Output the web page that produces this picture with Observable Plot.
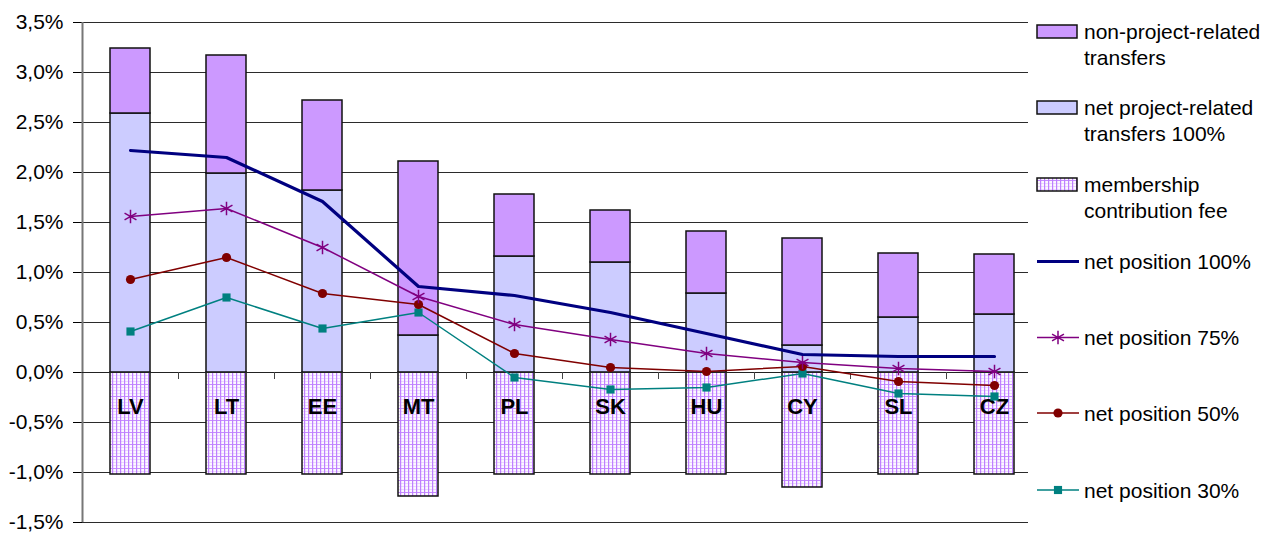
<!DOCTYPE html>
<html><head><meta charset="utf-8">
<script src="https://cdn.jsdelivr.net/npm/d3@7"></script>
<script src="https://cdn.jsdelivr.net/npm/@observablehq/plot@0.6"></script>
<style>
body{margin:0;background:#fff;font-family:"Liberation Sans",Arial,sans-serif;}
#wrap{position:relative;width:1278px;height:533px;overflow:hidden;}
#legend{position:absolute;left:1028px;top:0;}
</style></head><body><div id="wrap"></div>
<script>
const categories = ["LV","LT","EE","MT","PL","SK","HU","CY","SL","CZ"];
const membershipFee = [-1.02,-1.02,-1.02,-1.24,-1.02,-1.02,-1.02,-1.15,-1.02,-1.02];
const netProjectTransfers = [2.59,1.99,1.82,0.37,1.16,1.10,0.79,0.27,0.55,0.58];
const nonProjectTransfers = [0.65,1.18,0.90,1.74,0.62,0.52,0.62,1.07,0.64,0.60];
const netPosition100 = [2.22,2.15,1.71,0.86,0.77,0.60,0.39,0.18,0.16,0.16];
const netPosition75 = [1.56,1.64,1.25,0.76,0.48,0.33,0.19,0.10,0.04,0.01];
const netPosition50 = [0.93,1.15,0.79,0.68,0.19,0.05,0.01,0.06,-0.09,-0.13];
const netPosition30 = [0.41,0.75,0.44,0.60,-0.05,-0.17,-0.15,-0.01,-0.21,-0.24];
const yTicks = [-1.5,-1.0,-0.5,0,0.5,1.0,1.5,2.0,2.5,3.0,3.5];
const legendLabels = [
  ["non-project-related","transfers"],
  ["net project-related","transfers 100%"],
  ["membership","contribution fee"],
  ["net position 100%"],
  ["net position 75%"],
  ["net position 50%"],
  ["net position 30%"]
];

const C = {non:"#CC99FF", net:"#CCCCFF", p100:"#000080", p75:"#800080", p50:"#800000", p30:"#008080"};

const rows = categories.map((cat, i) => ({
  cat,
  fee: membershipFee[i],
  net: netProjectTransfers[i],
  top: netProjectTransfers[i] + nonProjectTransfers[i],
  p100: netPosition100[i], p75: netPosition75[i], p50: netPosition50[i], p30: netPosition30[i]
}));

const W = 1278, H = 533, ML = 82, MR = 236;
const step = (W - ML - MR) / categories.length;
const fmt = d => d.toFixed(1).replace(".", ",") + "%";

const chart = Plot.plot({
  width: W, height: H,
  marginLeft: ML, marginRight: MR, marginTop: 22, marginBottom: 11,
  style: {fontFamily: "'Liberation Sans', Arial, sans-serif", fontSize: "21px", color: "#000", background: "#fff"},
  x: {type: "band", domain: categories, paddingInner: 0.58, paddingOuter: 0.29, axis: null},
  y: {domain: [-1.5, 3.5], ticks: yTicks, tickFormat: fmt, tickSize: 9, tickPadding: 10, label: null},
  marks: [
    Plot.ruleY(yTicks, {stroke: "#2b2b2b", strokeWidth: 1}),
    Plot.ruleX([categories[0]], {y1: -1.5, y2: 3.5, dx: -step / 2, stroke: "#777", strokeWidth: 2}),
    Plot.barY(rows, {x: "cat", y1: 0, y2: "fee", fill: "url(#memberPattern)", stroke: "#111", strokeWidth: 1.5}),
    Plot.barY(rows, {x: "cat", y1: 0, y2: "net", fill: C.net, stroke: "#111", strokeWidth: 1.5}),
    Plot.barY(rows, {x: "cat", y1: "net", y2: "top", fill: C.non, stroke: "#111", strokeWidth: 1.5}),
    Plot.ruleY([0], {stroke: "#222", strokeWidth: 1}),
    Plot.ruleX(categories, {y1: 0, y2: -0.07, dx: step / 2, stroke: "#444", strokeWidth: 1}),
    Plot.text(rows, {x: "cat", y: 0, dy: 34, text: "cat", fontWeight: "bold", fontSize: 22, fill: "#000"}),
    Plot.line(rows, {x: "cat", y: "p30", stroke: C.p30, strokeWidth: 1.5}),
    Plot.dot(rows, {x: "cat", y: "p30", symbol: "square", r: 4.6, fill: C.p30}),
    Plot.line(rows, {x: "cat", y: "p50", stroke: C.p50, strokeWidth: 1.5}),
    Plot.dot(rows, {x: "cat", y: "p50", symbol: "circle", r: 4.6, fill: C.p50}),
    Plot.line(rows, {x: "cat", y: "p75", stroke: C.p75, strokeWidth: 1.5}),
    Plot.dot(rows, {x: "cat", y: "p75", symbol: "asterisk", r: 6.5, stroke: C.p75, strokeWidth: 1.5}),
    Plot.line(rows, {x: "cat", y: "p100", stroke: C.p100, strokeWidth: 3.2})
  ]
});

// pattern for the membership fee
function addPattern(svg, id) {
  const defs = svg.insert("defs", ":first-child");
  const p = defs.append("pattern").attr("id", id).attr("patternUnits", "userSpaceOnUse")
    .attr("width", 4).attr("height", 12);
  p.append("rect").attr("width", 4).attr("height", 12).attr("fill", "#FCF8FF");
  [3, 6, 9].forEach(y => p.append("rect").attr("x", 0).attr("y", y).attr("width", 4).attr("height", 1).attr("fill", "#EBD7FF"));
  p.append("rect").attr("x", 0).attr("y", 0).attr("width", 4).attr("height", 1).attr("fill", "#C58CFF");
  p.append("rect").attr("x", 0).attr("y", 0).attr("width", 1.2).attr("height", 12).attr("fill", "#BF80FF");
}
addPattern(d3.select(chart), "memberPattern");

const wrap = document.getElementById("wrap");
wrap.appendChild(chart);

// legend
const lg = d3.select(wrap).append("svg").attr("id", "legend")
  .attr("width", W - 1028).attr("height", H)
  .style("font-family", "'Liberation Sans', Arial, sans-serif").style("font-size", "21px");
lg.append("rect").attr("width", W - 1028).attr("height", H).attr("fill", "#fff");
addPattern(lg, "memberPatternLegend");

const boxes = [
  {y: 25, fill: C.non},
  {y: 101, fill: C.net},
  {y: 178, fill: "url(#memberPatternLegend)"}
];
boxes.forEach((b, i) => {
  lg.append("rect").attr("x", 9).attr("y", b.y).attr("width", 40).attr("height", 13)
    .attr("fill", b.fill).attr("stroke", "#111").attr("stroke-width", 1.5);
  const t = lg.append("text").attr("x", 56).attr("y", b.y + 14).attr("fill", "#000");
  legendLabels[i].forEach((s, k) => t.append("tspan").attr("x", 56).attr("dy", k === 0 ? 0 : 26).text(s));
});
const lineItems = [
  {y: 261.5, c: C.p100, w: 3.2, sym: null},
  {y: 337.5, c: C.p75, w: 1.5, sym: "asterisk"},
  {y: 413, c: C.p50, w: 1.5, sym: "circle"},
  {y: 490, c: C.p30, w: 1.5, sym: "square"}
];
lineItems.forEach((it, j) => {
  lg.append("line").attr("x1", 9).attr("x2", 51).attr("y1", it.y).attr("y2", it.y)
    .attr("stroke", it.c).attr("stroke-width", it.w);
  if (it.sym === "asterisk") {
    lg.append("path").attr("transform", `translate(30,${it.y})`)
      .attr("d", d3.symbol(d3.symbolAsterisk, Math.PI * 6.5 * 6.5)())
      .attr("fill", "none").attr("stroke", it.c).attr("stroke-width", 1.5);
  } else if (it.sym === "circle") {
    lg.append("circle").attr("cx", 30).attr("cy", it.y).attr("r", 4.6).attr("fill", it.c);
  } else if (it.sym === "square") {
    lg.append("path").attr("transform", `translate(30,${it.y})`)
      .attr("d", d3.symbol(d3.symbolSquare, Math.PI * 4.6 * 4.6)()).attr("fill", it.c);
  }
  lg.append("text").attr("x", 56).attr("y", it.y + 7.5).attr("fill", "#000").text(legendLabels[3 + j][0]);
});
</script>
</body></html>
